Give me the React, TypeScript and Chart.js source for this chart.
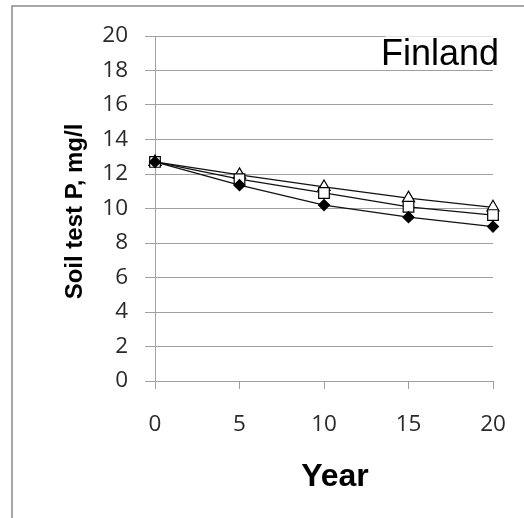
import React, { useEffect, useRef } from "react";
import { Chart, registerables } from "chart.js";

Chart.register(...registerables);

const years = [0, 5, 10, 15, 20];
const seriesDiamond = [12.7, 11.35, 10.2, 9.5, 8.95];
const seriesSquare = [12.7, 11.7, 10.9, 10.1, 9.62];
const seriesTriangle = [12.7, 11.95, 11.25, 10.6, 10.07];
const yTitle = "Soil test P, mg/l";
const xTitle = "Year";
const panelLabel = "Finland";

const W = 524;
const H = 518;

const decorPlugin = {
  id: "decor",
  afterDraw(chart: any) {
    const ctx = chart.ctx;
    ctx.save();
    // outer frame (left and top)
    ctx.strokeStyle = "#8a8a8a";
    ctx.lineWidth = 1.5;
    ctx.beginPath();
    ctx.moveTo(12, H);
    ctx.lineTo(12, 6);
    ctx.lineTo(W, 6);
    ctx.stroke();

    // x title
    ctx.fillStyle = "#000";
    ctx.font = "bold 32px 'Liberation Sans', Arial, sans-serif";
    ctx.textAlign = "center";
    ctx.textBaseline = "alphabetic";
    ctx.fillText(xTitle, 335, 486);

    // y title
    ctx.translate(82, 211.5);
    ctx.rotate(-Math.PI / 2);
    ctx.font = "bold 24px 'Liberation Sans', Arial, sans-serif";
    ctx.textAlign = "center";
    ctx.fillText(yTitle, 0, 0);
    ctx.restore();
  },
  beforeDatasetsDraw(chart: any) {
    const ctx = chart.ctx;
    ctx.save();
    // panel label with light box
    ctx.fillStyle = "rgba(255,255,255,0.7)";
    ctx.fillRect(385, 33, 116, 37);
    ctx.fillStyle = "#000";
    ctx.font = "36px 'Liberation Sans', Arial, sans-serif";
    ctx.textAlign = "right";
    ctx.textBaseline = "alphabetic";
    ctx.fillText(panelLabel, 499, 65);
    ctx.restore();
  },
};

export default function App() {
  const ref = useRef<HTMLCanvasElement | null>(null);

  useEffect(() => {
    document.body.style.margin = "0";
    const canvas = ref.current;
    if (!canvas) return;
    const mk = (
      label: string,
      data: number[],
      style: string,
      radius: number,
      fill: string
    ) => ({
      label,
      data: years.map((x, i) => ({ x, y: data[i] })),
      borderColor: "#111",
      borderWidth: 1.3,
      pointStyle: style,
      pointRadius: radius,
      pointHoverRadius: radius,
      pointBackgroundColor: fill,
      pointBorderColor: "#000",
      pointBorderWidth: 1.2,
      tension: 0,
      fill: false,
      clip: false,
    });
    const tickFont = { family: "'Open Sans', Lato, sans-serif", size: 22.5 };
    const chart = new Chart(canvas, {
      type: "line",
      data: {
        datasets: [
          mk("A", seriesDiamond, "rectRot", 5.5, "#000"),
          mk("B", seriesSquare, "rect", 7.5, "#fff"),
          mk("C", seriesTriangle, "triangle", 7, "#fff"),
        ],
      },
      options: {
        responsive: false,
        animation: false,
        devicePixelRatio: 1,
        layout: { padding: { left: 95, right: 31, top: 36, bottom: 77 } },
        plugins: {
          legend: { display: false },
          tooltip: { enabled: false },
          title: { display: false },
        },
        scales: {
          x: {
            type: "linear",
            min: 0,
            max: 20,
            afterFit: (s: any) => {
              s.height = 60;
              s.paddingLeft = 0;
              s.paddingRight = 0;
            },
            ticks: {
              stepSize: 5,
              padding: 22,
              color: "#2a2a2a",
              font: tickFont,
            },
            grid: {
              drawOnChartArea: false,
              drawTicks: true,
              tickLength: 8,
              color: "#a0a0a0",
              lineWidth: 1,
            },
            border: { color: "#a0a0a0", width: 1 },
          },
          y: {
            type: "linear",
            min: 0,
            max: 20,
            afterFit: (s: any) => {
              s.width = 60;
              s.paddingTop = 0;
              s.paddingBottom = 0;
            },
            ticks: {
              stepSize: 2,
              padding: 17,
              color: "#2a2a2a",
              font: tickFont,
            },
            grid: {
              drawOnChartArea: true,
              drawTicks: true,
              tickLength: 10,
              color: "#a0a0a0",
              lineWidth: 1,
            },
            border: { color: "#a0a0a0", width: 1 },
          },
        },
      },
      plugins: [decorPlugin],
    } as any);
    return () => chart.destroy();
  }, []);

  return (
    <div style={{ position: "absolute", left: 0, top: 0, width: W, height: H, background: "#fff" }}>
      <canvas ref={ref} width={W} height={H} style={{ width: W, height: H, display: "block" }} />
    </div>
  );
}
